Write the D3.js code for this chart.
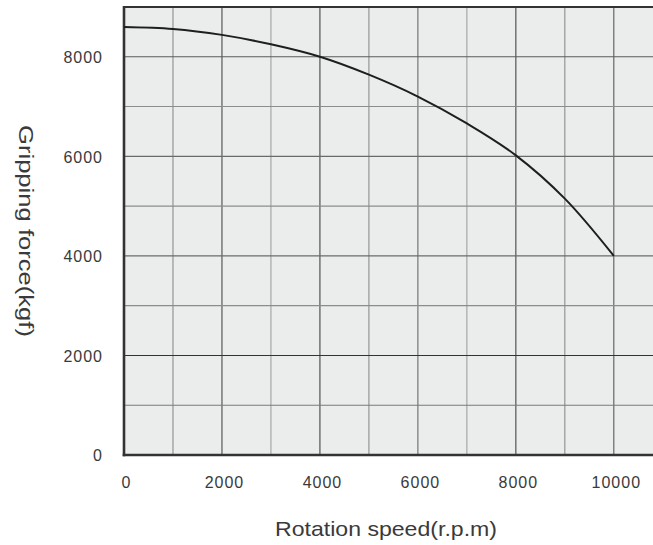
<!DOCTYPE html>
<html>
<head>
<meta charset="utf-8">
<script src="https://cdn.jsdelivr.net/npm/d3@7"></script>
<style>
  html, body { margin: 0; padding: 0; background: #fff; }
  svg { display: block; }
  text { font-family: "Liberation Sans", Arial, Helvetica, sans-serif; fill: #3a3a3a; }
</style>
</head>
<body>
<svg id="chart" width="653" height="545"></svg>
<script>
// Data
const speeds = [0, 1000, 2000, 3000, 4000, 5000, 6000, 7000, 8000, 9000, 10000];
const forces = [8600, 8560, 8440, 8250, 8000, 7640, 7200, 6660, 6020, 5150, 4000];
const xTickLabels = [0, 2000, 4000, 6000, 8000, 10000];
const yTickLabels = [0, 2000, 4000, 6000, 8000];
const xGrid = [1000, 2000, 3000, 4000, 5000, 6000, 7000, 8000, 9000, 10000];
const yGrid = [1000, 2000, 3000, 4000, 5000, 6000, 7000, 8000];
const xTitle = "Rotation speed(r.p.m)";
const yTitle = "Gripping force(kgf)";

// Gridline shading (style, not data)
const vShade = {1000: "#8c8c8c", 2000: "#4a4a4a", 3000: "#a0a0a0", 4000: "#444", 5000: "#8c8c8c",
                6000: "#6a6a6a", 7000: "#a0a0a0", 8000: "#444", 9000: "#8c8c8c", 10000: "#5a5a5a"};
const hShade = {1000: "#7a7a7a", 2000: "#333", 3000: "#8c8c8c", 4000: "#6a6a6a", 5000: "#8c8c8c",
                6000: "#6a6a6a", 7000: "#8c8c8c", 8000: "#5a5a5a"};

const svg = d3.select("#chart");
const pL = 124, pR = 653, pT = 7, pB = 455;

const x = d3.scaleLinear().domain([0, 10800]).range([pL, pR]);
const y = d3.scaleLinear().domain([0, 9000]).range([pB, pT]);

// plot background
svg.append("rect")
  .attr("x", pL).attr("y", pT)
  .attr("width", pR - pL).attr("height", pB - pT)
  .attr("fill", "#ebeded");

// vertical gridlines
svg.append("g").selectAll("line").data(xGrid).join("line")
  .attr("x1", d => x(d)).attr("x2", d => x(d))
  .attr("y1", pT).attr("y2", pB)
  .attr("stroke", d => vShade[d]).attr("stroke-width", 1.1);

// horizontal gridlines
svg.append("g").selectAll("line").data(yGrid).join("line")
  .attr("x1", pL).attr("x2", pR)
  .attr("y1", d => y(d)).attr("y2", d => y(d))
  .attr("stroke", d => hShade[d]).attr("stroke-width", 1.1);

// frame: top, left, bottom
svg.append("line").attr("x1", pL).attr("x2", pR).attr("y1", pT).attr("y2", pT)
  .attr("stroke", "#333").attr("stroke-width", 2);
svg.append("line").attr("x1", pL).attr("x2", pL).attr("y1", pT - 1).attr("y2", pB + 1.3)
  .attr("stroke", "#333").attr("stroke-width", 2.6);
svg.append("line").attr("x1", pL - 1.3).attr("x2", pR).attr("y1", pB).attr("y2", pB)
  .attr("stroke", "#333").attr("stroke-width", 2.6);

// curve
const line = d3.line().x((d, i) => x(speeds[i])).y(d => y(d)).curve(d3.curveCatmullRom);
svg.append("path").datum(forces)
  .attr("d", line)
  .attr("fill", "none").attr("stroke", "#1e1e1e").attr("stroke-width", 2);

// x tick labels
const xAxis = d3.axisBottom(x).tickValues(xTickLabels).tickSize(0).tickPadding(0).tickFormat(d3.format("d"));
const gx = svg.append("g").attr("transform", `translate(2,${pB})`).call(xAxis);
gx.select(".domain").remove();
gx.selectAll("text")
  .attr("y", 33).attr("dy", 0)
  .style("font-size", "16px").style("letter-spacing", "1px")
  .style("font-family", "'Liberation Sans', Arial, sans-serif").attr("fill", "#4a4a4a");

// y tick labels
const yAxis = d3.axisLeft(y).tickValues(yTickLabels).tickSize(0).tickPadding(0).tickFormat(d3.format("d"));
const gy = svg.append("g").attr("transform", `translate(103,0)`).call(yAxis);
gy.select(".domain").remove();
gy.selectAll("text")
  .attr("x", 0).attr("dy", "0.36em")
  .style("font-size", "16px").style("letter-spacing", "1px")
  .style("font-family", "'Liberation Sans', Arial, sans-serif").attr("fill", "#4a4a4a");

// axis titles
svg.append("text")
  .attr("x", 386).attr("y", 536)
  .attr("text-anchor", "middle")
  .attr("textLength", 222).attr("lengthAdjust", "spacingAndGlyphs")
  .style("font-size", "21px")
  .text(xTitle);

svg.append("text")
  .attr("transform", "translate(19,231) rotate(90)")
  .attr("text-anchor", "middle")
  .attr("textLength", 212).attr("lengthAdjust", "spacingAndGlyphs")
  .style("font-size", "21px")
  .text(yTitle);
</script>
</body>
</html>
